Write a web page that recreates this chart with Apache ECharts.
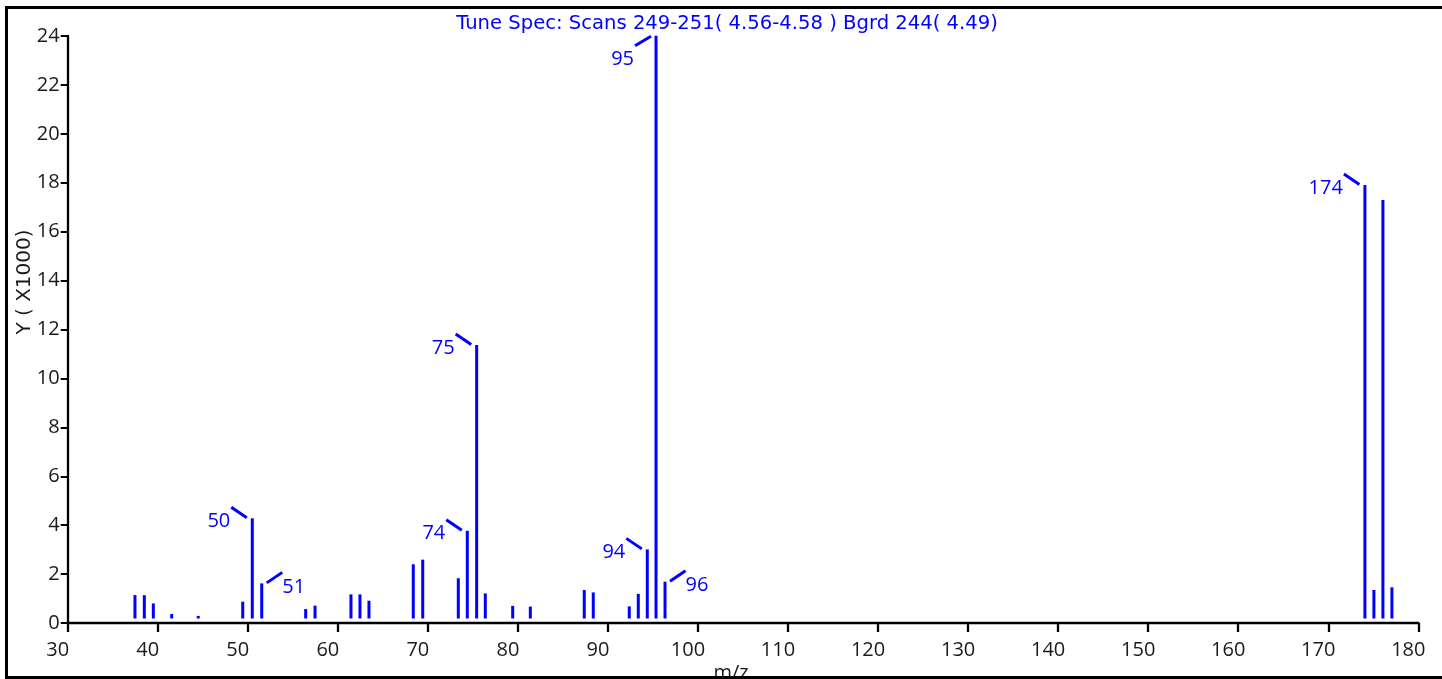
<!DOCTYPE html>
<html>
<head>
<meta charset="utf-8">
<script src="https://cdn.jsdelivr.net/npm/echarts@6/dist/echarts.min.js"></script>
<style>
html,body{margin:0;padding:0;background:#fff;}
#chart{width:1442px;height:679px;}
</style>
</head>
<body>
<div id="chart"></div>
<script>
// ---- data (m/z positions, intensity in thousands) ----
const titleText = 'Tune Spec: Scans 249-251( 4.56-4.58 ) Bgrd 244( 4.49)';
const yAxisTitle = 'Y ( X1000)';
const xAxisTitle = 'm/z';
const mzValues = [37.47, 38.51, 39.51, 41.55, 44.50, 49.44, 50.50, 51.55, 56.43, 57.47,
                  61.46, 62.46, 63.46, 68.38, 69.43, 73.38, 74.38, 75.42, 76.38, 79.42,
                  81.38, 87.37, 88.37, 92.37, 93.37, 94.37, 95.34, 96.34,
                  174.07, 175.07, 176.07, 177.07];
const intensities = [1.14, 1.14, 0.80, 0.37, 0.29, 0.87, 4.28, 1.62, 0.57, 0.71,
                     1.17, 1.17, 0.91, 2.40, 2.59, 1.83, 3.77, 11.37, 1.21, 0.70,
                     0.67, 1.35, 1.25, 0.68, 1.19, 3.01, 24.01, 1.69,
                     17.91, 1.35, 17.29, 1.46];
const peakLabels = ['', '', '', '', '', '', '50', '51', '', '',
                    '', '', '', '', '', '', '74', '75', '', '',
                    '', '', '', '', '', '94', '95', '96',
                    '174', '', '', ''];
const xMin = 30, xMax = 180, xStep = 10;
const yMin = 0, yMax = 24, yStep = 2;

// ---- styling ----
const BLUE = '#0000ff';
const INK = '#1a1a1a';
const FONT = '"Open Sans", "Noto Sans", sans-serif';
const FONT_WIDE = '"DejaVu Sans", "Open Sans", sans-serif';
const labelSide = { '51': 'right-up', '96': 'right-up', '95': 'left-down' };

const chart = echarts.init(document.getElementById('chart'), null, { renderer: 'canvas' });

function renderPeak(params, api) {
  const x = api.value(0), v = api.value(1);
  const top = api.coord([x, v]);
  const base = api.coord([x, 0]);
  const children = [{
    type: 'line',
    shape: { x1: top[0], y1: base[1] - 4.5, x2: top[0], y2: top[1] },
    style: { stroke: BLUE, lineWidth: 3 }
  }];
  const lbl = peakLabels[params.dataIndex];
  if (lbl) {
    const side = labelSide[lbl] || 'left-up';
    let line, text;
    if (side === 'left-up') {
      line = { x1: top[0] - 5.5, y1: top[1] - 0.5, x2: top[0] - 21, y2: top[1] - 11 };
      text = { x: top[0] - 22, y: top[1] + 3, align: 'right' };
    } else if (side === 'right-up') {
      line = { x1: top[0] + 5, y1: top[1] - 0.5, x2: top[0] + 20.5, y2: top[1] - 11 };
      text = { x: top[0] + 20.5, y: top[1] + 3.5, align: 'left' };
    } else {
      line = { x1: top[0] - 5, y1: top[1] + 0.5, x2: top[0] - 21, y2: top[1] + 10 };
      text = { x: top[0] - 22, y: top[1] + 23.5, align: 'right' };
    }
    children.push({ type: 'line', shape: line, style: { stroke: BLUE, lineWidth: 3 } });
    children.push({
      type: 'text',
      style: { x: text.x, y: text.y, text: lbl, align: text.align, verticalAlign: 'middle',
               fill: BLUE, font: '20px ' + FONT }
    });
  }
  return { type: 'group', children: children };
}

chart.setOption({
  animation: false,
  backgroundColor: '#fff',
  grid: { left: 67.7, right: 23.7, top: 36, bottom: 56, containLabel: false },
  xAxis: {
    type: 'value', min: xMin, max: xMax, interval: xStep,
    axisLine: { show: true, lineStyle: { color: '#000', width: 2.3 } },
    axisTick: { show: true, length: 9, lineStyle: { color: '#000', width: 2.3 } },
    splitLine: { show: false },
    axisLabel: { show: true, showMinLabel: true, showMaxLabel: true, color: INK, fontSize: 20,
                 fontFamily: FONT, margin: 17, padding: [0, 20, 0, 0] }
  },
  yAxis: {
    type: 'value', min: yMin, max: yMax, interval: yStep,
    axisLine: { show: true, lineStyle: { color: '#000', width: 2.3 } },
    axisTick: { show: true, length: 7, lineStyle: { color: '#000', width: 2 } },
    splitLine: { show: false },
    axisLabel: { show: true, showMinLabel: true, showMaxLabel: true, color: INK, fontSize: 20,
                 fontFamily: FONT, margin: 8, padding: [4, 0, 0, 0] }
  },
  series: [{
    type: 'custom',
    coordinateSystem: 'cartesian2d',
    renderItem: renderPeak,
    data: mzValues.map((m, i) => [m, intensities[i]]),
    clip: false
  }],
  graphic: [
    { type: 'text', x: 727, y: 24, z: 10,
      style: { text: titleText, align: 'center', verticalAlign: 'middle', fill: BLUE, font: '19.6px ' + FONT_WIDE } },
    { type: 'text', x: 25, y: 282, rotation: Math.PI / 2, z: 10,
      style: { text: yAxisTitle, align: 'center', verticalAlign: 'middle', fill: INK, font: '20px ' + FONT_WIDE } },
    { type: 'text', x: 731, y: 673, z: 10,
      style: { text: xAxisTitle, align: 'center', verticalAlign: 'middle', fill: INK, font: '20px ' + FONT } },
    { type: 'rect', z: 20, shape: { x: 6.5, y: 7.5, width: 1445, height: 670 },
      style: { fill: 'none', stroke: '#000', lineWidth: 3 } }
  ]
});
</script>
</body>
</html>
